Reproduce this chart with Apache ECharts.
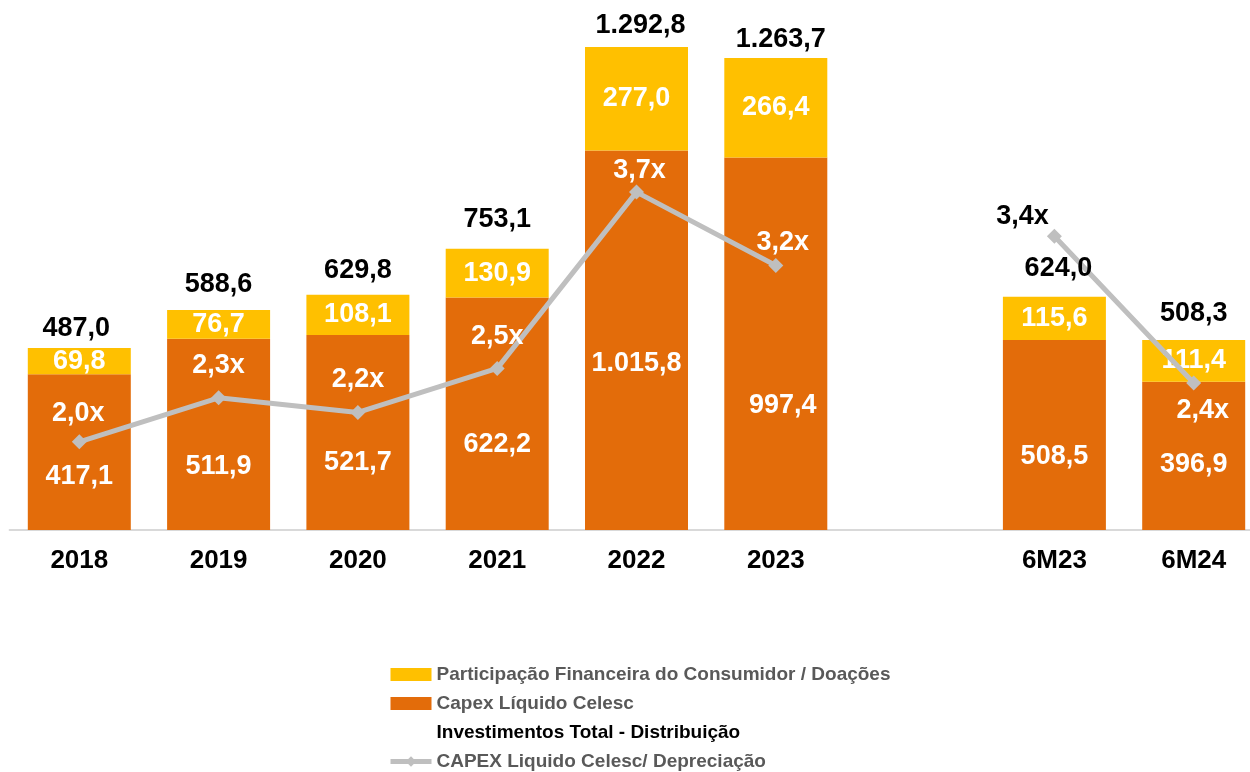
<!DOCTYPE html>
<html>
<head>
<meta charset="utf-8">
<script src="https://cdn.jsdelivr.net/npm/echarts@6/dist/echarts.min.js"></script>
<style>
html,body{margin:0;padding:0;background:#fff;}
#chart{width:1250px;height:772px;}
</style>
</head>
<body>
<div id="chart"></div>
<script>
// ---- data ----
var categories = ['2018', '2019', '2020', '2021', '2022', '2023', '', '6M23', '6M24'];
var capexLiquido = [417.1, 511.9, 521.7, 622.2, 1015.8, 997.4, null, 508.5, 396.9];
var participacao = [69.8, 76.7, 108.1, 130.9, 277.0, 266.4, null, 115.6, 111.4];
var investimentoTotal = [487.0, 588.6, 629.8, 753.1, 1292.8, 1263.7, null, 624.0, 508.3];
var capexDepreciacao = [2.0, 2.3, 2.2, 2.5, 3.7, 3.2, null, 3.4, 2.4];

// ---- label nudges (layout only) ----
var capexLabelOffset = [[0,24],[0,32],[0,30],[0,31],[0,23],[7,62],[0,0],[0,22],[0,9]];
var totalLabelOffset = [[-3,-20],[0,-26],[0,-24],[0,-29],[4,-21],[5,-18],[0,0],[4,-28],[0,-27]];
var ratioLabelOffset = [[-1,-28],[0,-32],[0,-33],[0,-32],[3,-22],[7,-23],[0,0],[-32,-20],[9,27]];
var ratioLabelColor = ['#fff','#fff','#fff','#fff','#fff','#fff','#fff','#000','#fff'];

var ORANGE = '#E36C0A', YELLOW = '#FFC000', GRAY = '#BFBFBF';
var FONT = '"Liberation Sans", Arial, sans-serif';

function fmt(v) {
  if (v == null) return '';
  var s = v.toFixed(1).split('.');
  var intPart = s[0].replace(/\B(?=(\d{3})+(?!\d))/g, '.');
  return intPart + ',' + s[1];
}
function fmtX(v) {
  if (v == null) return '';
  return v.toFixed(1).replace('.', ',') + 'x';
}

var chart = echarts.init(document.getElementById('chart'), null, {renderer: 'canvas'});

var option = {
  animation: false,
  backgroundColor: '#fff',
  textStyle: {fontFamily: FONT},
  grid: {left: 9.65, width: 1253.7, top: 7, height: 523, outerBoundsMode: 'none', containLabel: false},
  xAxis: {
    type: 'category',
    data: categories,
    axisLine: {lineStyle: {color: '#D9D9D9', width: 2}},
    axisTick: {show: false},
    axisLabel: {fontFamily: FONT, fontWeight: 'bold', fontSize: 26, color: '#000', margin: 18}
  },
  yAxis: [
    {type: 'value', min: 0, max: 1400, show: false, splitLine: {show: false}},
    {type: 'value', min: 1.4, max: 4.96, show: false, splitLine: {show: false}}
  ],
  legend: {
    orient: 'vertical',
    left: 388,
    top: 665,
    padding: 0,
    itemWidth: 41,
    itemHeight: 13,
    itemGap: 10,
    textStyle: {fontFamily: FONT, fontWeight: 'bold', fontSize: 19, color: '#595959'},
    data: [
      {name: 'Participação Financeira do Consumidor / Doações', icon: 'rect'},
      {name: 'Capex Líquido Celesc', icon: 'rect'},
      {name: 'Investimentos Total - Distribuição', icon: 'rect',
        itemStyle: {opacity: 0}, lineStyle: {opacity: 0}, textStyle: {color: '#000'}},
      {name: 'CAPEX Liquido Celesc/ Depreciação', lineStyle: {width: 5, color: GRAY}}
    ]
  },
  series: [
    {
      name: 'Capex Líquido Celesc',
      type: 'bar',
      stack: 'inv',
      barWidth: 103,
      itemStyle: {color: ORANGE},
      data: capexLiquido.map(function (v, i) {
        return {value: v, label: {offset: capexLabelOffset[i]}};
      }),
      label: {
        show: true, position: 'inside',
        formatter: function (p) { return fmt(p.value); },
        fontFamily: FONT, fontWeight: 'bold', fontSize: 27, color: '#fff'
      }
    },
    {
      name: 'Participação Financeira do Consumidor / Doações',
      type: 'bar',
      stack: 'inv',
      barWidth: 103,
      itemStyle: {color: YELLOW},
      data: participacao,
      label: {
        show: true, position: 'inside',
        formatter: function (p) { return fmt(p.value); },
        fontFamily: FONT, fontWeight: 'bold', fontSize: 27, color: '#fff'
      }
    },
    {
      name: 'Investimentos Total - Distribuição',
      type: 'line',
      symbol: 'circle',
      symbolSize: 1,
      itemStyle: {color: 'rgba(0,0,0,0)'},
      lineStyle: {width: 0, opacity: 0},
      z: 5,
      data: investimentoTotal.map(function (v, i) {
        return {value: v, label: {offset: totalLabelOffset[i]}};
      }),
      label: {
        show: true, position: 'inside',
        formatter: function (p) { return fmt(p.value); },
        fontFamily: FONT, fontWeight: 'bold', fontSize: 27, color: '#000'
      }
    },
    {
      name: 'CAPEX Liquido Celesc/ Depreciação',
      type: 'line',
      yAxisIndex: 1,
      symbol: 'diamond',
      symbolSize: 15,
      connectNulls: false,
      itemStyle: {color: GRAY},
      lineStyle: {color: GRAY, width: 5},
      z: 4,
      data: capexDepreciacao.map(function (v, i) {
        return {value: v, label: {offset: ratioLabelOffset[i], color: ratioLabelColor[i]}};
      }),
      label: {
        show: true, position: 'inside',
        formatter: function (p) { return fmtX(p.value); },
        fontFamily: FONT, fontWeight: 'bold', fontSize: 27
      }
    }
  ]
};
chart.setOption(option);
</script>
</body>
</html>
